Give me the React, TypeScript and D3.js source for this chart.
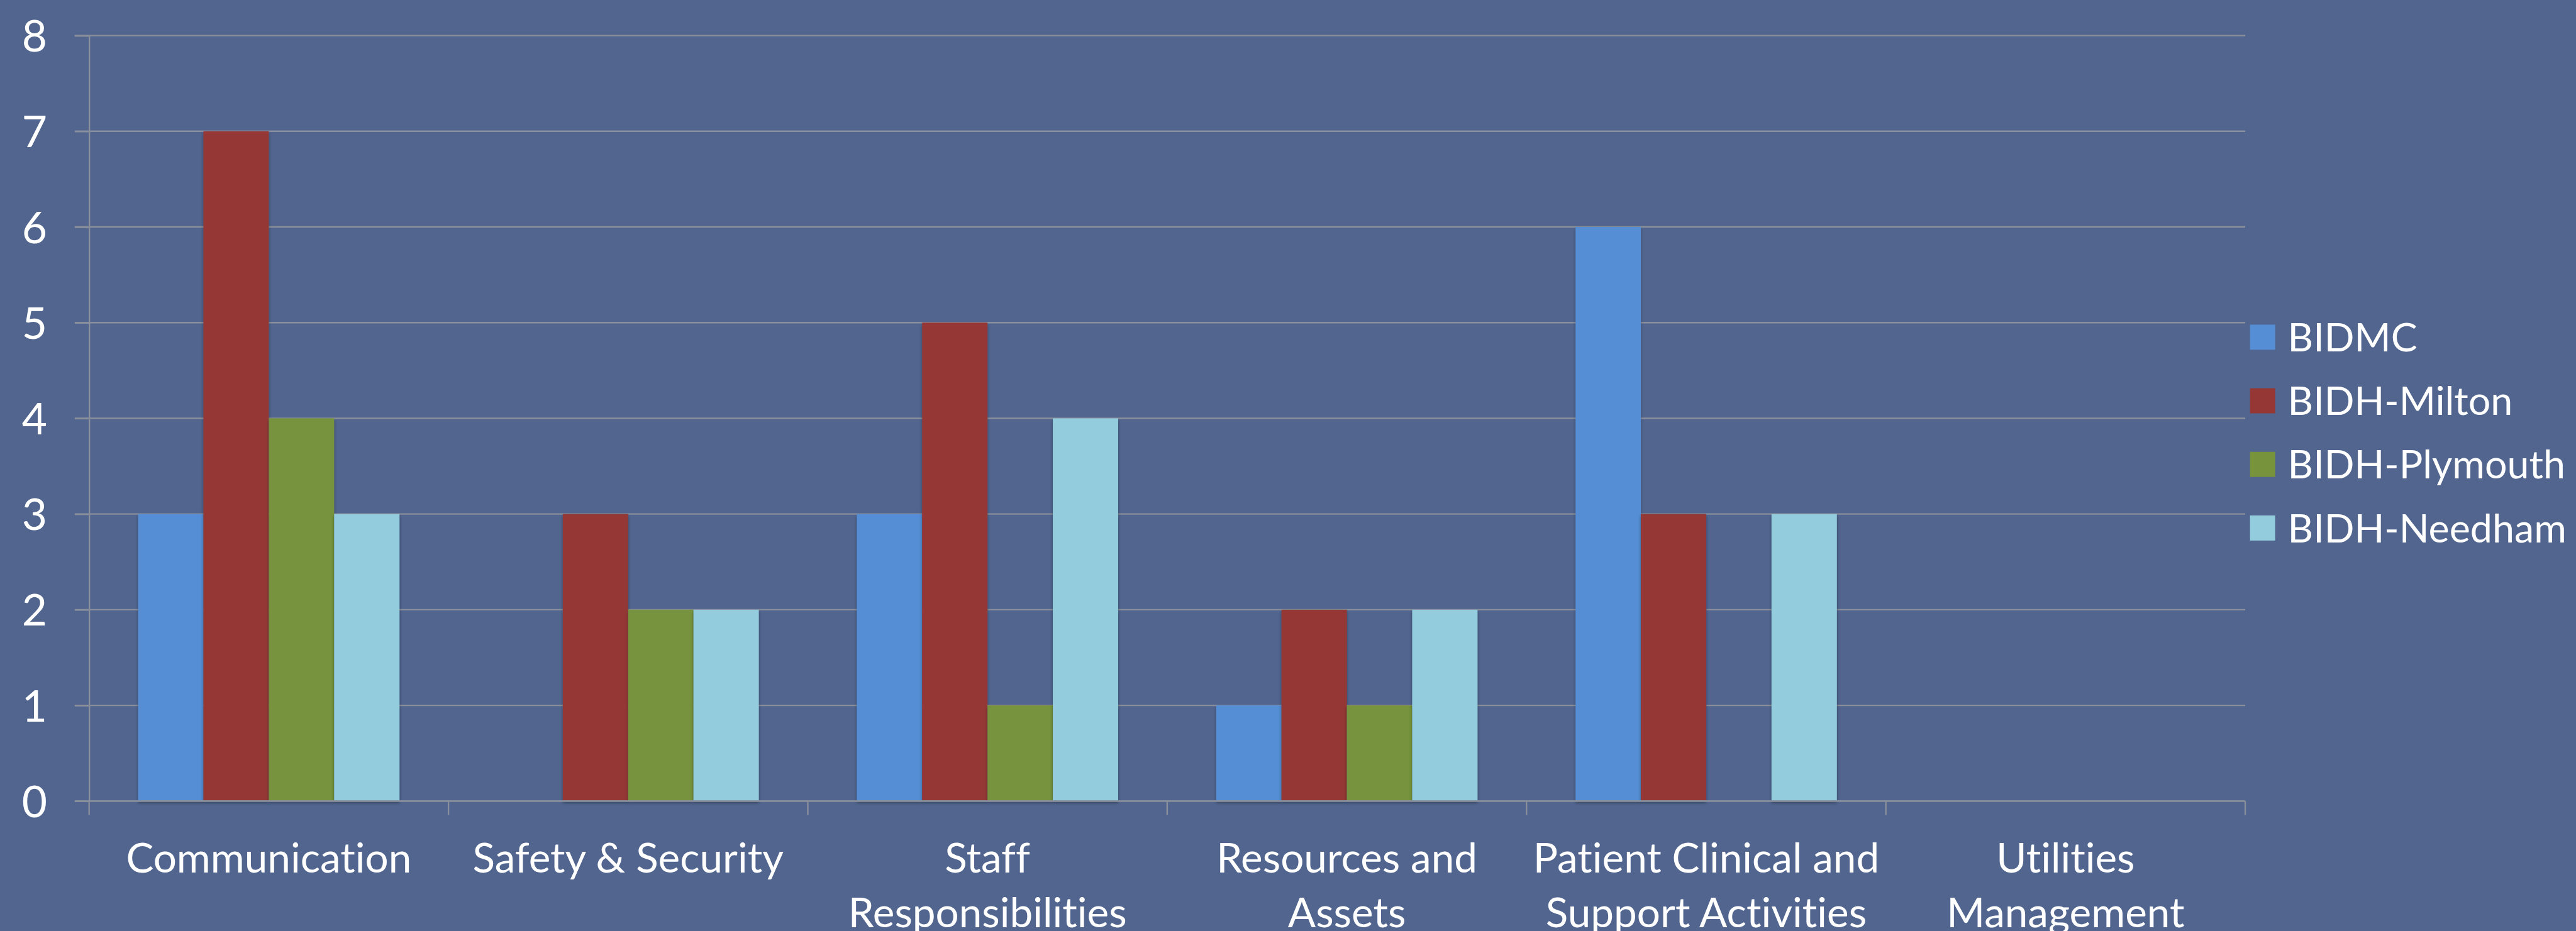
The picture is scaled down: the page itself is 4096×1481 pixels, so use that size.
import React, { useEffect, useRef } from 'react';
import * as d3 from 'd3';

const S = 0.951;
const WIDTH = 4096;
const HEIGHT = 1481;

const categories = [
  'Communication',
  'Safety & Security',
  'Staff Responsibilities',
  'Resources and Assets',
  'Patient Clinical and Support Activities',
  'Utilities Management',
];
// how Excel wrapped each category label
const categoryLines = [
  ['Communication'],
  ['Safety & Security'],
  ['Staff', 'Responsibilities'],
  ['Resources and', 'Assets'],
  ['Patient Clinical and', 'Support Activities'],
  ['Utilities', 'Management'],
];
const seriesNames = ['BIDMC', 'BIDH-Milton', 'BIDH-Plymouth', 'BIDH-Needham'];
const bidmc = [3, 0, 3, 1, 6, 0];
const milton = [7, 3, 5, 2, 3, 0];
const plymouth = [4, 2, 1, 1, 0, 0];
const needham = [3, 2, 4, 2, 3, 0];
const yTicks = [0, 1, 2, 3, 4, 5, 6, 7, 8];

const seriesValues = [bidmc, milton, plymouth, needham];
const colors = ['#558ED5', '#953735', '#77933C', '#93CDDD'];

// layout in reference pixels, scaled by S
const PLOT = { left: 149, right: 3754, top: 59.5, bottom: 1340 };
const FONT = "Lato, 'Open Sans', sans-serif";
const FONT_SIZE = 69;
const GRID = '#8A8F9C';

export default function App() {
  const ref = useRef<SVGSVGElement>(null);

  useEffect(() => {
    document.body.style.margin = '0';
    if (!ref.current) return;
    const svg = d3.select(ref.current);
    svg.selectAll('*').remove();

    const defs = svg.append('defs');
    defs
      .append('filter')
      .attr('id', 'barShadow')
      .attr('x', '-20%')
      .attr('y', '-5%')
      .attr('width', '140%')
      .attr('height', '110%')
      .append('feDropShadow')
      .attr('dx', 0)
      .attr('dy', 3 * S)
      .attr('stdDeviation', 3 * S)
      .attr('flood-color', '#000')
      .attr('flood-opacity', 0.35);

    svg
      .append('rect')
      .attr('width', WIDTH)
      .attr('height', HEIGHT)
      .attr('fill', '#51658F');

    const x0 = d3
      .scaleBand<string>()
      .domain(categories)
      .range([PLOT.left * S, PLOT.right * S]);

    const bw = x0.bandwidth();
    const gap = (bw * 0.75) / 5.5;
    const x1 = d3
      .scaleBand<string>()
      .domain(seriesNames)
      .range([gap, bw - gap]);

    const y = d3
      .scaleLinear()
      .domain([0, 8])
      .range([PLOT.bottom * S, PLOT.top * S]);

    // gridlines
    svg
      .append('g')
      .selectAll('line')
      .data(yTicks.filter((d) => d > 0))
      .enter()
      .append('line')
      .attr('x1', (PLOT.left - 24) * S)
      .attr('x2', PLOT.right * S)
      .attr('y1', (d) => y(d))
      .attr('y2', (d) => y(d))
      .attr('stroke', GRID)
      .attr('stroke-width', 2.5 * S);

    // y axis
    const yAxis = d3
      .axisLeft(y)
      .tickValues(yTicks)
      .tickSize(24 * S)
      .tickPadding(46 * S)
      .tickFormat((d) => String(d));
    const gy = svg
      .append('g')
      .attr('transform', `translate(${PLOT.left * S},0)`)
      .call(yAxis);
    gy.select('.domain').attr('stroke', GRID).attr('stroke-width', 2.5 * S);
    gy.selectAll('.tick line').attr('stroke', GRID).attr('stroke-width', 2.5 * S);
    gy.selectAll('.tick text')
      .attr('fill', '#fff')
      .style('font-family', FONT)
      .style('font-size', `${73 * S}px`)
      .attr('dy', '0.36em');

    // bars
    const groups = svg
      .append('g')
      .selectAll('g')
      .data(categories)
      .enter()
      .append('g')
      .attr('transform', (d) => `translate(${x0(d)},0)`);

    groups
      .selectAll('rect')
      .data((_, i) =>
        seriesNames.map((name, k) => ({ name, value: seriesValues[k][i], color: colors[k] }))
      )
      .enter()
      .filter((d) => d.value > 0)
      .append('rect')
      .attr('x', (d) => x1(d.name)!)
      .attr('width', x1.bandwidth())
      .attr('y', (d) => y(d.value))
      .attr('height', (d) => y(0) - y(d.value))
      .attr('fill', (d) => d.color)
      .attr('filter', 'url(#barShadow)');

    // x axis line and tick marks at band edges
    const gx = svg.append('g');
    gx.append('line')
      .attr('x1', (PLOT.left - 24) * S)
      .attr('x2', PLOT.right * S)
      .attr('y1', y(0))
      .attr('y2', y(0))
      .attr('stroke', GRID)
      .attr('stroke-width', 3 * S);
    const edges = categories.map((c) => x0(c)!).concat([PLOT.right * S]);
    gx.selectAll('line.edge')
      .data(edges)
      .enter()
      .append('line')
      .attr('class', 'edge')
      .attr('x1', (d) => d)
      .attr('x2', (d) => d)
      .attr('y1', y(0))
      .attr('y2', y(0) + 23 * S)
      .attr('stroke', GRID)
      .attr('stroke-width', 2.5 * S);

    // category labels
    const labels = svg
      .append('g')
      .selectAll('text')
      .data(categories)
      .enter()
      .append('text')
      .attr('x', (d) => x0(d)! + bw / 2)
      .attr('y', 1459 * S)
      .attr('text-anchor', 'middle')
      .attr('fill', '#fff')
      .style('font-family', FONT)
      .style('font-size', `${FONT_SIZE * S}px`)
      .style('font-variant-ligatures', 'none');
    labels
      .selectAll('tspan')
      .data((_, i) => categoryLines[i])
      .enter()
      .append('tspan')
      .attr('x', function () {
        return (this.parentNode as SVGTextElement).getAttribute('x');
      })
      .attr('dy', (_, j) => (j === 0 ? 0 : 92 * S))
      .text((d) => d);

    // legend
    const legend = svg
      .append('g')
      .selectAll('g')
      .data(seriesNames)
      .enter()
      .append('g')
      .attr('transform', (_, i) => `translate(${3762 * S},${(564 + i * 106.4) * S})`);
    legend
      .append('rect')
      .attr('x', 0)
      .attr('y', -21 * S)
      .attr('width', 42 * S)
      .attr('height', 42 * S)
      .attr('fill', (_, i) => colors[i]);
    legend
      .append('text')
      .attr('x', 63 * S)
      .attr('y', 0)
      .attr('dy', '0.36em')
      .attr('fill', '#fff')
      .style('font-family', FONT)
      .style('font-size', `${66 * S}px`)
      .text((d) => d);
  }, []);

  return <svg ref={ref} width={WIDTH} height={HEIGHT} style={{ display: 'block' }} />;
}
